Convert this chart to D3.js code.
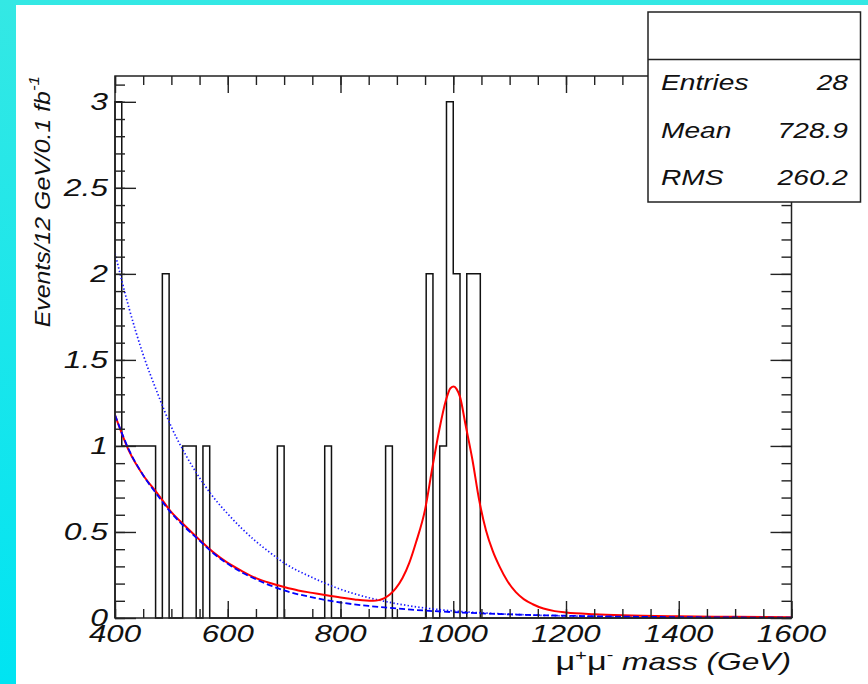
<!DOCTYPE html>
<html><head><meta charset="utf-8">
<script src="https://cdn.jsdelivr.net/npm/d3@7"></script>
<style>body{margin:0;background:#fff}svg{display:block}</style>
</head><body><svg id="c" width="868" height="684"></svg>
<script>
// ---------------- data ----------------
const massMin = 400, massMax = 1600, binWidth = 12;
const binStarts = [400,412,424,436,448,460,484,520,532,556,688,772,880,952,976,988,1000,1024,1036];
const binCounts = [3,1,1,1,1,1,2,1,1,1,1,1,1,2,1,3,2,2,2];

// fitted total (signal + background), red solid
const totalMass = [400,425,450,475,500,525,550,575,600,625,650,675,700,725,750,775,800,825,845,858,868,878,888,898,910,922,934,950,963,975,987,995,1001,1006,1012,1022,1034,1046,1058,1070,1082,1096,1111,1125,1141,1160,1180,1200,1250,1300,1400,1500,1600];
const totalVal  = [1.18,0.97,0.83,0.725,0.615,0.533,0.454,0.38,0.32,0.273,0.232,0.203,0.18,0.16,0.146,0.132,0.119,0.108,0.101,0.1,0.104,0.116,0.138,0.172,0.232,0.32,0.44,0.63,0.875,1.09,1.265,1.335,1.345,1.33,1.285,1.12,0.92,0.685,0.51,0.39,0.3,0.215,0.15,0.11,0.08,0.055,0.04,0.032,0.022,0.016,0.01,0.007,0.005];

// background component, blue dashed
const bkgMass = [400,425,450,475,500,525,550,575,600,625,650,675,700,750,800,850,900,950,1000,1100,1200,1300,1400,1500,1600];
const bkgVal  = [1.18,0.975,0.83,0.715,0.61,0.525,0.45,0.375,0.315,0.265,0.225,0.19,0.16,0.12,0.09,0.07,0.055,0.043,0.034,0.021,0.013,0.008,0.005,0.003,0.002];

// alternative background, blue dotted
const altMass = [400,425,450,475,500,525,550,575,600,625,650,675,700,750,800,850,900,950,1000,1050,1100,1200,1300,1400,1500,1600];
const altVal  = [2.12,1.8,1.53,1.31,1.11,0.95,0.815,0.7,0.605,0.52,0.445,0.38,0.32,0.235,0.167,0.118,0.083,0.058,0.041,0.03,0.022,0.012,0.007,0.004,0.0025,0.0015];

const xTickValues = [400,600,800,1000,1200,1400,1600];
const xTickLabels = ["400","600","800","1000","1200","1400","1600"];
const yTickValues = [0,0.5,1,1.5,2,2.5,3];
const yTickLabels = ["0","0.5","1","1.5","2","2.5","3"];
const statNames  = ["Entries","Mean","RMS"];
const statValues = ["28","728.9","260.2"];

// ---------------- layout ----------------
const svg = d3.select("#c");
const FONT = "'Liberation Sans', Arial, Helvetica, sans-serif";
const L = 115, R = 791.5, T = 76, B = 618;
const x = d3.scaleLinear().domain([massMin, massMax]).range([L, R]);
const y = d3.scaleLinear().domain([0, 3.15]).range([B, T]);

// background
const defs = svg.append("defs");
const g0 = defs.append("linearGradient").attr("id","bg").attr("x1",0).attr("y1",0).attr("x2",0).attr("y2",1);
g0.append("stop").attr("offset","0%").attr("stop-color","#34e8e4");
g0.append("stop").attr("offset","100%").attr("stop-color","#00e4f2");
svg.append("rect").attr("width",868).attr("height",684).attr("fill","url(#bg)");
svg.append("rect").attr("x",16).attr("y",5).attr("width",852).attr("height",679).attr("fill","#fff");

defs.append("clipPath").attr("id","clip").append("rect")
  .attr("x",L).attr("y",T).attr("width",R-L).attr("height",B-T);

// histogram
const counts = d3.range((massMax-massMin)/binWidth).map(() => 0);
binStarts.forEach((s,i) => { counts[Math.round((s-massMin)/binWidth)] = binCounts[i]; });
const histPts = [[massMin,0]];
counts.forEach((c,i) => histPts.push([massMin + i*binWidth, c]));
histPts.push([massMax,0]);
svg.append("path")
  .attr("d", d3.line().x(d=>x(d[0])).y(d=>y(d[1])).curve(d3.curveStepAfter)(histPts))
  .attr("fill","none").attr("stroke","#111").attr("stroke-width",1.5);

// curves
const lineGen = d3.line().x(d=>x(d[0])).y(d=>y(d[1])).curve(d3.curveMonotoneX);
const cg = svg.append("g").attr("clip-path","url(#clip)");
cg.append("path").attr("d", lineGen(altMass.map((m,i)=>[m,altVal[i]])))
  .attr("fill","none").attr("stroke","#1a1aff").attr("stroke-width",1.7).attr("stroke-dasharray","1.4,2.2");
cg.append("path").attr("d", lineGen(totalMass.map((m,i)=>[m,totalVal[i]])))
  .attr("fill","none").attr("stroke","#ff0000").attr("stroke-width",2);
cg.append("path").attr("d", lineGen(bkgMass.map((m,i)=>[m,bkgVal[i]])))
  .attr("fill","none").attr("stroke","#0000ff").attr("stroke-width",1.8).attr("stroke-dasharray","6,3");

// frame
svg.append("rect").attr("x",L).attr("y",T).attr("width",R-L).attr("height",B-T)
  .attr("fill","none").attr("stroke","#222").attr("stroke-width",1.5);

// axes ticks
const xMinor = d3.range(massMin, massMax+1, 50);
const yMinor = d3.range(0, 3.15, 0.1);
function styleAxis(g){ g.select(".domain").remove(); g.selectAll("line").attr("stroke","#222").attr("stroke-width",1.4); g.selectAll("text").remove(); }
svg.append("g").attr("transform",`translate(0,${B})`).call(d3.axisBottom(x).tickValues(xMinor).tickSize(-9)).call(styleAxis);
svg.append("g").attr("transform",`translate(0,${B})`).call(d3.axisBottom(x).tickValues(xTickValues).tickSize(-17)).call(styleAxis);
svg.append("g").attr("transform",`translate(0,${T})`).call(d3.axisTop(x).tickValues(xMinor).tickSize(-9)).call(styleAxis);
svg.append("g").attr("transform",`translate(0,${T})`).call(d3.axisTop(x).tickValues(xTickValues).tickSize(-17)).call(styleAxis);
svg.append("g").attr("transform",`translate(${L},0)`).call(d3.axisLeft(y).tickValues(yMinor).tickSize(-10)).call(styleAxis);
svg.append("g").attr("transform",`translate(${L},0)`).call(d3.axisLeft(y).tickValues(yTickValues).tickSize(-21)).call(styleAxis);
svg.append("g").attr("transform",`translate(${R},0)`).call(d3.axisRight(y).tickValues(yMinor).tickSize(-10)).call(styleAxis);
svg.append("g").attr("transform",`translate(${R},0)`).call(d3.axisRight(y).tickValues(yTickValues).tickSize(-21)).call(styleAxis);

// text helper
function label(px, py, str, size, anchor, sx, rot){
  return svg.append("text")
    .attr("transform", `translate(${px},${py})` + (rot?` rotate(${rot})`:"") + ` scale(${sx},1)`)
    .attr("font-family", FONT).attr("font-style","italic").attr("font-size", size)
    .attr("text-anchor", anchor).attr("fill","#111").text(str);
}
xTickValues.forEach((v,i) => label(x(v), 642, xTickLabels[i], 24, "middle", 1.3));
yTickValues.forEach((v,i) => label(108, y(v)+8, yTickLabels[i], 24, "end", 1.33));

// x title
const xt = svg.append("text").attr("transform",`translate(791,670) scale(1.32,1)`)
  .attr("font-family",FONT).attr("font-size",24).attr("text-anchor","end").attr("fill","#111");
xt.append("tspan").attr("font-size",26).text("μ");
xt.append("tspan").attr("font-size",15).attr("dy",-10).text("+");
xt.append("tspan").attr("font-size",26).attr("dy",10).text("μ");
xt.append("tspan").attr("font-size",15).attr("dy",-10).text("-");
xt.append("tspan").attr("dy",10).attr("font-style","italic").text(" mass (GeV)");

// y title
const yt = svg.append("text").attr("transform",`translate(50,76) rotate(-90) scale(1.13,1)`)
  .attr("font-family",FONT).attr("font-style","italic").attr("font-size",22).attr("text-anchor","end").attr("fill","#111");
yt.append("tspan").text("Events/12 GeV/0.1 fb");
yt.append("tspan").attr("font-size",15).attr("dy",-11).text("-1");

// stats box
svg.append("rect").attr("x",648).attr("y",12).attr("width",212.5).attr("height",190)
  .attr("fill","#fff").attr("stroke","#222").attr("stroke-width",1.5);
svg.append("line").attr("x1",648).attr("x2",860.5).attr("y1",59.5).attr("y2",59.5)
  .attr("stroke","#222").attr("stroke-width",1.5);
statNames.forEach((n,i) => {
  label(661, 90 + i*47.5, n, 22, "start", 1.28);
  label(848, 90 + i*47.5, statValues[i], 22, "end", 1.28);
});
</script></body></html>
